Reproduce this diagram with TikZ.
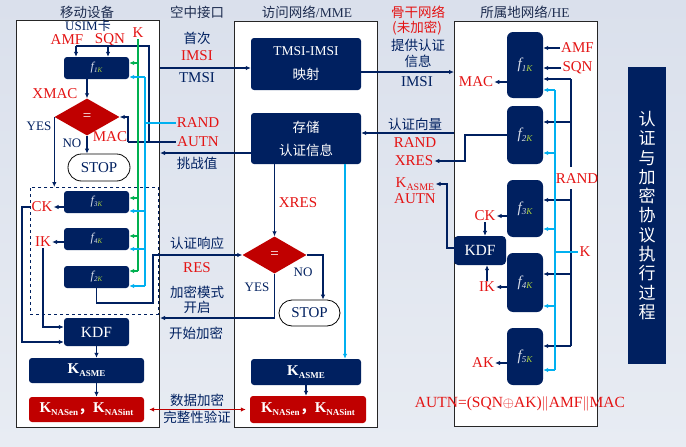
\documentclass[tikz,border=0pt]{standalone}
\usepackage{fontspec}
\setmainfont{Liberation Serif}
\newfontfamily\cjk{Noto Sans CJK SC}
\usetikzlibrary{arrows.meta,shapes.geometric,shapes.misc}
\definecolor{navy}{RGB}{0,32,96}
\definecolor{hnavy}{RGB}{30,45,80}
\definecolor{dred}{RGB}{192,0,0}
\definecolor{tred}{RGB}{228,20,20}
\definecolor{cyanl}{RGB}{0,176,240}
\definecolor{grn}{RGB}{0,176,80}
\definecolor{kgreen}{RGB}{170,210,60}
\definecolor{fcol}{RGB}{215,220,232}
\definecolor{bgT}{RGB}{218,224,236}
\definecolor{bgB}{RGB}{232,236,243}
\newcommand{\fsm}[1]{{\color{fcol}\fontsize{12}{12}\selectfont\itshape f\raisebox{-2pt}{\fontsize{7}{7}\selectfont #1\textcolor{kgreen}{K}}}}
\newcommand{\fbg}[1]{{\color{fcol}\fontsize{15}{15}\selectfont\itshape f\raisebox{-2.5pt}{\fontsize{9}{9}\selectfont #1\textcolor{kgreen}{K}}}}
\newcommand{\KasmeT}{{\bfseries\fontsize{15}{18}\selectfont K\raisebox{-3pt}{\fontsize{9}{9}\selectfont ASME}}}
\newcommand{\KnasT}{{\bfseries\fontsize{15}{18}\selectfont K\raisebox{-3pt}{\fontsize{9}{9}\selectfont NASen}{\cjk ，}K\raisebox{-3pt}{\fontsize{9}{9}\selectfont NASint}}}
\tikzset{
  every node/.style={inner sep=1pt},
  lab/.style={text=tred, font=\fontsize{15}{18}\selectfont},
  nlab/.style={text=navy, font=\fontsize{15}{18}\selectfont},
  yn/.style={text=navy, font=\fontsize{13}{15}\selectfont},
  cn/.style={text=navy, font=\cjk\fontsize{13.5}{16}\selectfont},
  hdr/.style={text=hnavy, font=\cjk\fontsize{13.5}{16}\selectfont},
  panel/.style={draw=black!85, line width=1.1pt, fill=white, anchor=north west, inner sep=0},
  nbox/.style={fill=navy, rounded corners=3pt, inner sep=0, text=white},
  rbox/.style={fill=dred, rounded corners=3pt, inner sep=0, text=white},
  hbox/.style={fill=navy, rounded corners=6pt, inner sep=0, minimum width=36pt},
  stopbox/.style={rounded rectangle, draw=black, line width=0.8pt, fill=white, text=navy, font=\fontsize{15}{18}\selectfont, inner sep=0},
  deci/.style={diamond, fill=dred, inner sep=0, minimum width=65pt, minimum height=37pt, text=white, font=\fontsize{15}{18}\selectfont},
  nv/.style={draw=navy, line width=1.1pt},
  arr/.style={nv, -{Latex[length=5pt,width=4.5pt]}},
  cy/.style={draw=cyanl, line width=1.1pt},
  cyarr/.style={cy, -{Latex[length=5pt,width=4.5pt]}},
  gn/.style={draw=grn, line width=1.1pt},
  gnarr/.style={gn, -{Latex[length=5pt,width=4.5pt]}},
  redarr/.style={draw=dred, line width=1.1pt, {Latex[length=5pt,width=4.5pt]}-{Latex[length=5pt,width=4.5pt]}, shorten <=5pt, shorten >=4pt},
}
\begin{document}
\begin{tikzpicture}[x=1pt,y=-1pt]
\shade[top color=bgT,bottom color=bgB] (0,0) rectangle (686,447);
\useasboundingbox (0,0) rectangle (686,447);

% headers
\node[hdr] (h1) at (87,12) {移动设备};
\node[hdr] (h2) at (197,12) {空中接口};
\node[hdr] (h3) at (307,12) {访问网络{\rmfamily /MME}};
\node[hdr] (h5) at (525,12) {所属地网络{\rmfamily /HE}};
\node[cn, text=tred] (bb1) at (418,12) {骨干网络};
\node[cn, text=tred] (bb2) at (417,28) {(未加密)};
\node[cn] (bb3) at (418,45) {提供认证};
\node[cn] (bb4) at (418,61) {信息};

% panels
\node[panel, minimum width=143pt, minimum height=407pt] (ue) at (16,20) {};
\node[panel, minimum width=143pt, minimum height=406pt] (mme) at (234,21) {};
\node[panel, minimum width=143pt, minimum height=405pt] (he) at (454,21) {};

% right bar
\node[fill=navy, minimum width=38pt, minimum height=297pt, inner sep=0, text=white, align=center, font=\cjk\fontsize{17}{19.3}\selectfont] (bar) at (647,215.5) {认\\证\\与\\加\\密\\协\\议\\执\\行\\过\\程};

% ===== UE =====
\node[text=navy, inner sep=0, font=\fontsize{13}{15}\selectfont] (usim) at (88,25.5) {USIM{\cjk 卡}};
\node[lab, inner sep=0] (amf1) at (67,40) {AMF};
\node[lab, inner sep=0] (sqn1) at (110,40) {SQN};
\node[lab] (k1) at (138,33) {K};
\node[nbox, minimum width=65pt, minimum height=22pt] (f1) at (96.5,68) {\fsm{1}};
\node[lab] (xmac) at (55,94) {XMAC};
\node[deci] (d1) at (87,117) {=};
\node[yn] (yes1) at (39,126) {YES};
\node[yn] (no1) at (72,143) {NO};
\node[lab] (mac1) at (110,137) {MAC};
\node[stopbox, minimum width=62pt, minimum height=27pt] (stop1) at (99,167.5) {STOP};
\node[draw=navy, dashed, line width=0.8pt, anchor=north west, minimum width=128pt, minimum height=127pt, inner sep=0] (dbox) at (30,187) {};
\node[nbox, minimum width=65pt, minimum height=22pt] (f3) at (96.5,202) {\fsm{3}};
\node[nbox, minimum width=65pt, minimum height=22pt] (f4) at (96.5,239) {\fsm{4}};
\node[nbox, minimum width=65pt, minimum height=22pt] (f2u) at (96.5,277) {\fsm{2}};
\node[lab] (ck1) at (42,207) {CK};
\node[lab] (ik1) at (43,242) {IK};
\node[nbox, minimum width=65pt, minimum height=28pt, font=\fontsize{15.5}{18}\selectfont] (kdf1) at (96.5,332) {KDF};
\node[nbox, minimum width=115pt, minimum height=25pt] (kasme1) at (86.5,370.5) {\KasmeT};
\node[rbox, minimum width=115pt, minimum height=25pt] (knas1) at (86.5,409.5) {\KnasT};

% ===== air interface =====
\node[cn] (sc) at (197,38) {首次};
\node[lab] (imsiA) at (197,56) {IMSI};
\node[nlab] (tmsiA) at (197,78) {TMSI};
\node[lab] (randA) at (198,123) {RAND};
\node[lab] (autnA) at (198,142) {AUTN};
\node[cn] (tzz) at (197,163) {挑战值};
\node[cn] (rzxy) at (197,243) {认证响应};
\node[lab] (resA) at (197,268) {RES};
\node[cn, align=center, font=\cjk\fontsize{13.5}{15}\selectfont] (jm) at (197,300) {加密模式\\开启};
\node[cn] (ksjm) at (196,333) {开始加密};
\node[cn, align=center, font=\cjk\fontsize{13.5}{17}\selectfont] (sj) at (197,408.5) {数据加密\\完整性验证};

% ===== MME =====
\node[nbox, minimum width=110pt, minimum height=52pt, align=center, font=\fontsize{13.5}{24}\selectfont] (tm) at (306,64) {TMSI-IMSI\\{\cjk 映射}};
\node[nbox, minimum width=110pt, minimum height=51pt, align=center, font=\cjk\fontsize{13.5}{23}\selectfont] (cu) at (306,138.5) {存储\\认证信息};
\node[lab] (xres2) at (298,203) {XRES};
\node[deci, minimum width=64pt] (d2) at (274.5,255) {=};
\node[yn] (no2) at (303,272) {NO};
\node[yn] (yes2) at (257,287) {YES};
\node[stopbox, minimum width=61pt, minimum height=26pt] (stop2) at (309.5,313) {STOP};
\node[nbox, minimum width=110pt, minimum height=26pt] (kasme2) at (306,372) {\KasmeT};
\node[rbox, minimum width=116pt, minimum height=27pt] (knas2) at (308,409.5) {\KnasT};

% ===== HE side labels =====
\node[nlab] (imsiB) at (417,82) {IMSI};
\node[cn] (rzxl) at (415,124) {认证向量};
\node[lab] (rand3) at (415,143) {RAND};
\node[lab] (xres3) at (414,161) {XRES};
\node[lab] (kasme3) at (415,184) {K\raisebox{-3pt}{\fontsize{10}{10}\selectfont ASME}};
\node[lab] (autn3) at (415,199) {AUTN};

% ===== HE =====
\node[hbox, minimum height=66pt] (f1h) at (525,65) {\fbg{1}};
\node[hbox, minimum height=58pt] (f2h) at (525,135) {\fbg{2}};
\node[hbox, minimum height=57pt] (f3h) at (525,208.5) {\fbg{3}};
\node[hbox, minimum height=59pt] (f4h) at (525,282.5) {\fbg{4}};
\node[hbox, minimum height=57pt] (f5h) at (525,356.5) {\fbg{5}};
\node[lab] (amf2) at (577.5,48) {AMF};
\node[lab] (sqn2) at (577.5,68) {SQN};
\node[lab] (rand2) at (577,179) {RAND};
\node[lab] (k2) at (585,252) {K};
\node[lab] (mac2) at (476,82) {MAC};
\node[lab] (ck2) at (485,216) {CK};
\node[lab] (ik2) at (487,287) {IK};
\node[lab] (ak2) at (483,363) {AK};
\node[nbox, rounded corners=4pt, minimum width=52pt, minimum height=29pt, font=\fontsize{15.5}{18}\selectfont] (kdf2) at (480,250.5) {KDF};
\node[lab, font=\fontsize{15.5}{18}\selectfont] (form) at (520,404) {AUTN=(SQN$\oplus$AK)$\|$AMF$\|$MAC};

% ===== UE connectors =====
\coordinate (jA) at (128,142);
\coordinate (jB) at (149,142);
\coordinate (jC) at (149,46);
\coordinate (jD) at (76,46);
\coordinate (jE) at (108,46);
\draw[nv] (autnA.west) -- (jA);
\draw[arr] (jA) |- (d1.east);
\draw[nv] (jB) -- (jC) -- (jD);
\draw[arr] (jD) -- (jD |- f1.north);
\draw[arr] (jE) -- (jE |- f1.north);

\coordinate (g1) at (138,63);
\coordinate (g3) at (138,198);
\coordinate (g4) at (138,236);
\coordinate (g2) at (138,271);
\draw[gn] (k1.south) -- (g2);
\draw[gnarr] (g1) -- (g1 -| f1.east);
\draw[gnarr] (g3) -- (g3 -| f3.east);
\draw[gnarr] (g4) -- (g4 -| f4.east);
\draw[gnarr] (g2) -- (g2 -| f2u.east);

\coordinate (cJ) at (145,123);
\coordinate (c1) at (145,77);
\coordinate (c3) at (145,211);
\coordinate (c4) at (145,249);
\coordinate (c2) at (145,286);
\draw[cy] (randA.west) -- (cJ);
\draw[cy] (c1) -- (c2);
\draw[cyarr] (c1) -- (c1 -| f1.east);
\draw[cyarr] (c3) -- (c3 -| f3.east);
\draw[cyarr] (c4) -- (c4 -| f4.east);
\draw[cyarr] (c2) -- (c2 -| f2u.east);

\draw[arr] (d1.north |- f1.south) -- (d1.north);
\draw[arr] (d1.west) -- (d1.west |- dbox.north);
\draw[arr] (d1.south) -- (d1.south |- stop1.north);
\draw[arr] (f3.west |- ck1) -- (ck1.east);
\draw[arr] (f4.west |- ik1) -- (ik1.east);
\coordinate (ckL) at (22,207);
\draw[arr] (ck1.west) -- (ckL) |- ([yshift=-10pt]kdf1.west);
\draw[arr] (ik1.south) |- ([yshift=5pt]kdf1.west);
\coordinate (rj1) at (153,303);
\draw[arr] (f2u.south) |- (rj1) |- (d2.west);
\draw[arr] (kdf1.south) -- (kdf1.south |- kasme1.north);
\draw[arr] (kdf1.south |- kasme1.south) -- (kdf1.south |- knas1.north);

% ===== air / MME connectors =====
\coordinate (yI) at (0,68);
\draw[arr] (ue.east |- yI) -- (tm.west |- yI);
\coordinate (yT) at (0,72);
\draw[arr] (tm.east |- yT) -- (he.west |- yT);
\coordinate (yV) at (0,133);
\draw[arr] (he.west |- yV) -- (cu.east |- yV);
\coordinate (yC) at (0,153);
\draw[arr] (cu.west |- yC) -- (ue.east |- yC);
\draw[arr] (d2.north |- cu.south) -- (d2.north);
\coordinate (cyX) at (345,0);
\draw[cyarr] (cyX |- cu.south) -- (cyX |- kasme2.north);
\coordinate (n2) at (323,255);
\draw[arr] (d2.east) -- (n2) -- (n2 |- stop2.north);
\coordinate (yY) at (0,318);
\draw[arr] (d2.south) |- (ue.east |- yY);
\draw[arr] (kasme2.south) -- (kasme2.south |- knas2.north);
\draw[redarr] (knas1.east) -- (knas2.west);

% ===== HE connectors =====
\draw[arr] (amf2.west) -- (amf2.west -| f1h.east);
\draw[arr] (sqn2.west) -- (sqn2.west -| f1h.east);
\coordinate (r1) at (571,79);
\coordinate (rA) at (571,167);
\coordinate (rB) at (571,189);
\coordinate (r2) at (571,122);
\coordinate (r3) at (571,200);
\coordinate (r4) at (571,274);
\coordinate (r5) at (571,346);
\draw[nv] (r1) -- (rA);
\draw[nv] (rB) -- (r5);
\draw[arr] (r1) -- (r1 -| f1h.east);
\draw[arr] (r2) -- (r2 -| f2h.east);
\draw[arr] (r3) -- (r3 -| f3h.east);
\draw[arr] (r4) -- (r4 -| f4h.east);
\draw[arr] (r5) -- (r5 -| f5h.east);

\coordinate (q1) at (555,90);
\coordinate (q2) at (555,153);
\coordinate (q3) at (555,229);
\coordinate (q4) at (555,306);
\coordinate (q5) at (555,370);
\coordinate (qK) at (555,252);
\draw[cy] (q1) -- (q5);
\draw[cy] (qK) -- (k2.west);
\draw[cyarr] (q1) -- (q1 -| f1h.east);
\draw[cyarr] (q2) -- (q2 -| f2h.east);
\draw[cyarr] (q3) -- (q3 -| f3h.east);
\draw[cyarr] (q4) -- (q4 -| f4h.east);
\draw[cyarr] (q5) -- (q5 -| f5h.east);

\draw[arr] (f1h.west |- mac2) -- (mac2.east);
\coordinate (xj) at (465,135);
\draw[arr] (f2h.west) -- (xj) |- (xres3.east);
\draw[arr] (f3h.west |- ck2) -- (ck2.east);
\draw[arr] (ck2.south) -- (ck2.south |- kdf2.north);
\draw[arr] (f4h.west |- ik2) -- (ik2.east);
\draw[arr] (ik2.north) -- (ik2.north |- kdf2.south);
\draw[arr] (f5h.west |- ak2) -- (ak2.east);
\coordinate (kj1) at (447,248);
\draw[arr] (kdf2.west |- kj1) -- (kj1) |- (kasme3.east);
\end{tikzpicture}
\end{document}
